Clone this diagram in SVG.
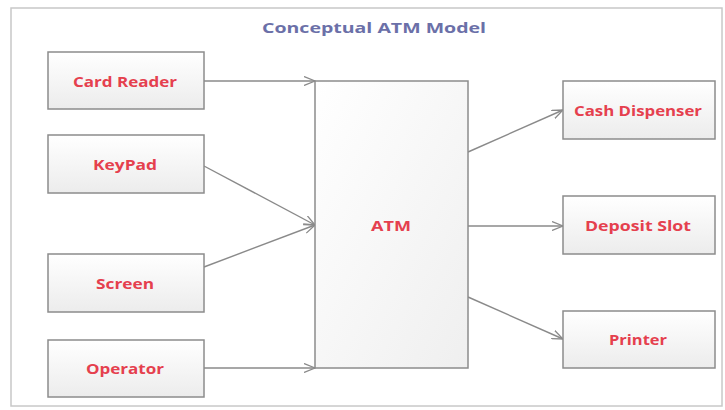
<svg xmlns="http://www.w3.org/2000/svg" width="725" height="410" viewBox="0 0 725 410">
  <defs>
    <linearGradient id="boxFill" x1="0" y1="0" x2="0" y2="1">
      <stop offset="0" stop-color="#ffffff"/>
      <stop offset="1" stop-color="#ececec"/>
    </linearGradient>
    <linearGradient id="atmFill" x1="0" y1="0" x2="1" y2="1">
      <stop offset="0" stop-color="#ffffff"/>
      <stop offset="1" stop-color="#efefef"/>
    </linearGradient>
    <marker id="open" viewBox="0 0 12 10" refX="11" refY="5" markerWidth="12" markerHeight="10" markerUnits="userSpaceOnUse" orient="auto">
      <path d="M0,0.5 L11,5 L0,9.5" fill="none" stroke="#8a8a8a" stroke-width="1.3"/>
    </marker>
  </defs>
  <style>
    .frame { fill: #ffffff; stroke: #c8c8c8; stroke-width: 1.5; }
    .box { fill: url(#boxFill); stroke: #8c8c8c; stroke-width: 1.5; }
    .atm { fill: url(#atmFill); stroke: #8c8c8c; stroke-width: 1.5; }
    .label { font-family: "Open Sans", "Liberation Sans", sans-serif; font-weight: bold; font-size: 15px; fill: #e5404e; text-anchor: middle; dominant-baseline: central; }
    .title { font-family: "Open Sans", "Liberation Sans", sans-serif; font-weight: bold; font-size: 15px; fill: #6b70a8; text-anchor: middle; }
    .edge { fill: none; stroke: #8a8a8a; stroke-width: 1.4; marker-end: url(#open); }
  </style>

  <rect width="725" height="410" fill="#ffffff"/>
  <rect class="frame" x="11" y="8" width="711" height="398"/>
  <text class="title" x="374" y="33" textLength="224" lengthAdjust="spacingAndGlyphs">Conceptual ATM Model</text>

  <g id="connectors">
    <line class="edge" x1="204" y1="81" x2="315" y2="81"/>
    <line class="edge" x1="204" y1="166" x2="315" y2="225"/>
    <line class="edge" x1="204" y1="267" x2="315" y2="225"/>
    <line class="edge" x1="204" y1="368" x2="315" y2="368"/>
    <line class="edge" x1="468" y1="152" x2="563" y2="110"/>
    <line class="edge" x1="468" y1="226" x2="563" y2="226"/>
    <line class="edge" x1="468" y1="297" x2="563" y2="339"/>
  </g>

  <g id="card-reader">
    <rect class="box" x="48" y="52" width="156" height="57"/>
    <text class="label" x="125" y="81" textLength="104" lengthAdjust="spacingAndGlyphs">Card Reader</text>
  </g>
  <g id="keypad">
    <rect class="box" x="48" y="135" width="156" height="58"/>
    <text class="label" x="125" y="164" textLength="64" lengthAdjust="spacingAndGlyphs">KeyPad</text>
  </g>
  <g id="screen">
    <rect class="box" x="48" y="254" width="156" height="58"/>
    <text class="label" x="125" y="283" textLength="58" lengthAdjust="spacingAndGlyphs">Screen</text>
  </g>
  <g id="operator">
    <rect class="box" x="48" y="340" width="156" height="57"/>
    <text class="label" x="125" y="368" textLength="78" lengthAdjust="spacingAndGlyphs">Operator</text>
  </g>
  <g id="atm">
    <rect class="atm" x="315" y="81" width="153" height="287"/>
    <text class="label" x="391" y="225" textLength="40" lengthAdjust="spacingAndGlyphs">ATM</text>
  </g>
  <g id="cash-dispenser">
    <rect class="box" x="563" y="81" width="152" height="58"/>
    <text class="label" x="638" y="110" textLength="128" lengthAdjust="spacingAndGlyphs">Cash Dispenser</text>
  </g>
  <g id="deposit-slot">
    <rect class="box" x="563" y="196" width="152" height="58"/>
    <text class="label" x="638" y="225" textLength="106" lengthAdjust="spacingAndGlyphs">Deposit Slot</text>
  </g>
  <g id="printer">
    <rect class="box" x="563" y="311" width="152" height="57"/>
    <text class="label" x="638" y="339" textLength="58" lengthAdjust="spacingAndGlyphs">Printer</text>
  </g>
</svg>
